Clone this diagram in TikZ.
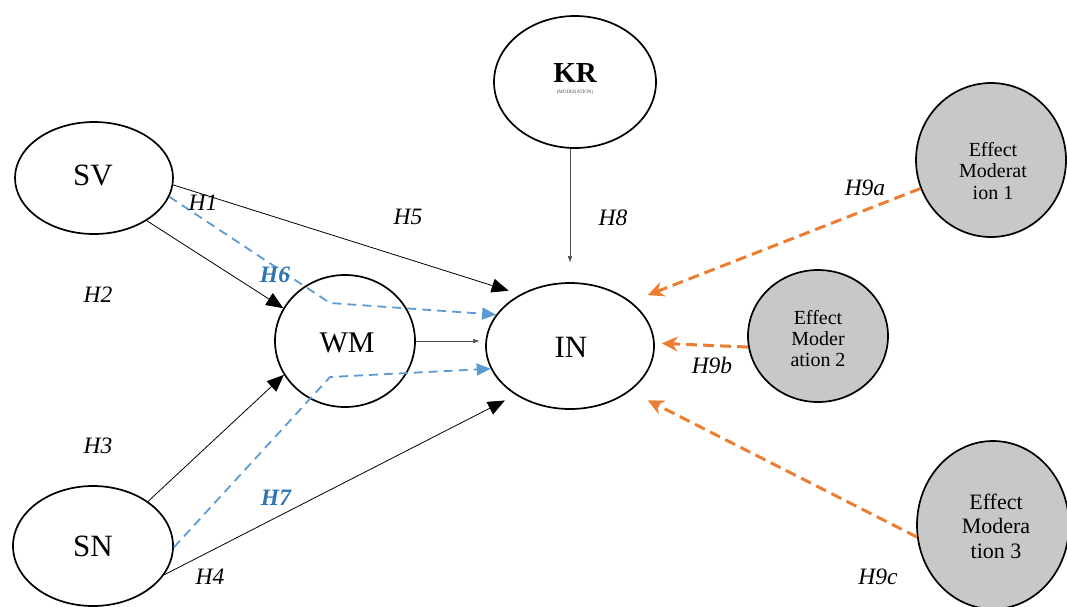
\documentclass[tikz,border=0pt]{standalone}
\usepackage{fontspec}
\setmainfont{Liberation Serif}
\usetikzlibrary{shapes.geometric,arrows.meta}
\definecolor{medblue}{HTML}{5B9BD5}
\definecolor{medbluetext}{HTML}{2E75B6}
\definecolor{modorange}{HTML}{ED7D31}
\definecolor{modgrey}{HTML}{C8C8C8}

\begin{document}
\begin{tikzpicture}[x=1pt,y=-1pt,
  var/.style={ellipse,draw,line width=1.7pt,inner sep=0pt},
  modvar/.style={var,fill=modgrey,align=center},
  direct/.style={draw,line width=0.8pt,-{Triangle[length=17pt,width=14pt]}},
  thinpath/.style={draw,line width=0.5pt,black!70,-{Triangle[length=6pt,width=4pt]}},
  mediation/.style={draw,medblue,line width=1.8pt,dash pattern=on 9pt off 6pt,
    -{Triangle[length=14pt,width=12pt]}},
  moderation/.style={draw,modorange,line width=3pt,dash pattern=on 11pt off 6pt,
    -{Stealth[length=16pt,width=15pt]}},
  hyp/.style={font=\fontsize{23.5}{26}\selectfont\itshape,inner sep=0pt},
  hypmed/.style={hyp,font=\fontsize{23.5}{26}\selectfont\itshape\bfseries,text=medbluetext},
]
\useasboundingbox (0,0) rectangle (1067,606);

% constructs
\node[var,minimum width=158pt,minimum height=112pt] (SV) at (94,178) {};
\node[font=\fontsize{31}{34}\selectfont] (SVt) at (93,175) {SV};
\node[var,minimum width=160pt,minimum height=120pt] (SN) at (93,546) {};
\node[font=\fontsize{31}{34}\selectfont] (SNt) at (93,546) {SN};
\node[var,minimum width=140pt,minimum height=132pt] (WM) at (345,341) {};
\node[font=\fontsize{30}{33}\selectfont] (WMt) at (347,343) {WM};
\node[var,minimum width=168pt,minimum height=126pt] (IN) at (570,346) {};
\node[font=\fontsize{31}{34}\selectfont] (INt) at (571,347) {IN};
\node[var,minimum width=162pt,minimum height=132pt] (KR) at (575,82) {};
\node[font=\fontsize{29}{32}\selectfont\bfseries] (KRt) at (575,73) {KR};
\node[font=\fontsize{5}{6}\selectfont,text=black!70] (KRs) at (575,92) {(MODERATION)};

% moderating effects
\node[modvar,minimum width=150pt,minimum height=154pt] (EM1) at (991,160) {};
\node[font=\fontsize{20}{21.5}\selectfont,align=center] (EM1t) at (993,171) {Effect\\Moderat\\ion 1};
\node[modvar,minimum width=140pt,minimum height=132pt] (EM2) at (818,336) {};
\node[font=\fontsize{20}{21}\selectfont,align=center] (EM2t) at (818,339) {Effect\\Moder\\ation 2};
\node[modvar,minimum width=152pt,minimum height=168pt] (EM3) at (993,525) {};
\node[font=\fontsize{22}{24.5}\selectfont,align=center] (EM3t) at (996,526) {Effect\\Modera\\tion 3};

% direct paths
\path[direct] (SV.-39) -- (WM.152);
\path[direct,shorten >=12pt] (SV.-5) -- (IN.134);
\path[direct] (SN.39) -- (WM.209);
\path[direct,shorten >=12pt] (SN.-22) -- (IN.222);
\path[thinpath,shorten >=6pt] (WM.east) -- (WM.east -| IN.west);
\path[thinpath,shorten >=20pt] (IN.north |- KR.south) -- (IN.north);

% mediated paths
\coordinate (b6) at (330,303);
\coordinate (b7) at (330,377);
\path[mediation] (SV.-14) -- (b6) -- (IN.157);
\path[mediation] (SN.-1) -- (b7) -- (IN.196);

% moderation paths
\path[moderation,shorten >=18pt] (EM1.202) -- (IN.36);
\path[moderation,shorten >=7pt] (EM2.189) -- (IN.2);
\path[moderation,shorten >=20pt] (EM3.189) -- (IN.-37);

% hypothesis labels
\node[hyp] (H1) at (203,203) {H1};
\node[hyp] (H2) at (98,295) {H2};
\node[hyp] (H3) at (98,446) {H3};
\node[hyp] (H4) at (210,577) {H4};
\node[hyp] (H5) at (408,217) {H5};
\node[hypmed] (H6) at (275,275) {H6};
\node[hypmed] (H7) at (276,498) {H7};
\node[hyp] (H8) at (613,218) {H8};
\node[hyp] (H9a) at (865,188) {H9a};
\node[hyp] (H9b) at (712,365) {H9b};
\node[hyp] (H9c) at (878,577) {H9c};
\end{tikzpicture}
\end{document}
